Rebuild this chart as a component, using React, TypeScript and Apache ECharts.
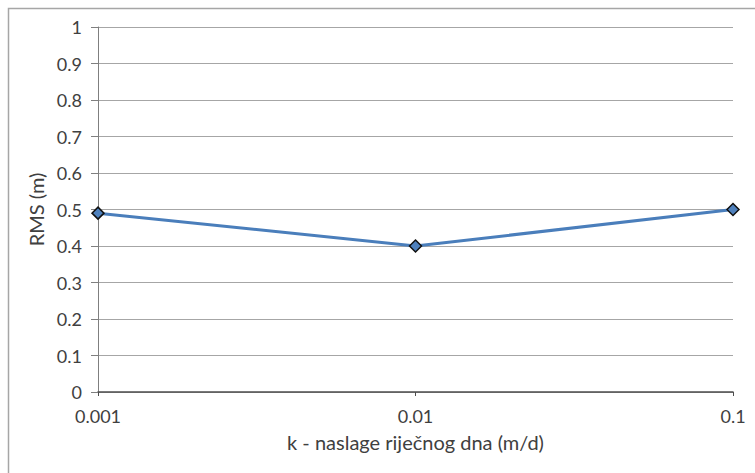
import React, { useEffect, useRef } from "react";
import * as echarts from "echarts";

const xValues = [0.001, 0.01, 0.1];
const rmsValues = [0.49, 0.4, 0.5];
const xTickLabels = ["0.001", "0.01", "0.1"];
const yTitle = "RMS (m)";
const xTitle = "k - naslage riječnog dna (m/d)";

export default function App() {
  const ref = useRef<HTMLDivElement>(null);
  useEffect(() => {
    if (!ref.current) return;
    const chart = echarts.init(ref.current, undefined, { renderer: "svg" });
    const font = "Lato, 'Open Sans', sans-serif";
    chart.setOption({
      animation: false,
      backgroundColor: "#ffffff",
      textStyle: { fontFamily: font },
      graphic: [
        {
          type: "rect",
          shape: { x: 8.5, y: 8.5, width: 800, height: 500 },
          style: { fill: "none", stroke: "#a6a6a6", lineWidth: 1.5 },
          silent: true,
          z: -1,
        },
      ],
      grid: { left: 98, right: 22, top: 27, bottom: 81, containLabel: false },
      xAxis: {
        type: "log",
        logBase: 10,
        min: 0.001,
        max: 0.1,
        name: xTitle,
        nameLocation: "middle",
        nameGap: 40,
        nameTextStyle: { fontSize: 20, color: "#404040", fontFamily: font },
        axisLine: { show: true, lineStyle: { color: "#4d4d4d", width: 1.5 } },
        axisTick: { show: true, length: 4, lineStyle: { color: "#4d4d4d" } },
        axisLabel: {
          fontSize: 18,
          color: "#404040",
          margin: 15,
          formatter: (v: number) => {
            const i = xValues.findIndex((x) => Math.abs(Math.log10(x) - Math.log10(v)) < 1e-6);
            return i >= 0 ? xTickLabels[i] : "";
          },
        },
        splitLine: { show: false },
        minorTick: { show: false },
      },
      yAxis: {
        type: "value",
        min: 0,
        max: 1,
        interval: 0.1,
        name: yTitle,
        nameLocation: "middle",
        nameGap: 42,
        nameRotate: 90,
        nameTextStyle: { fontSize: 20, color: "#404040", fontFamily: font },
        axisLine: { show: true, lineStyle: { color: "#7f7f7f", width: 1 } },
        axisTick: { show: true, length: 7, lineStyle: { color: "#7f7f7f" } },
        axisLabel: {
          fontSize: 18,
          color: "#404040",
          margin: 16,
          formatter: (v: number) => String(Math.round(v * 10) / 10),
        },
        splitLine: { show: true, lineStyle: { color: "#a6a6a6", width: 1 } },
      },
      series: [
        {
          type: "line",
          data: xValues.map((x, i) => [x, rmsValues[i]]),
          symbol: "diamond",
          symbolSize: 12,
          lineStyle: { color: "#4a7ebb", width: 3 },
          itemStyle: { color: "#4f81bd", borderColor: "#111111", borderWidth: 1.5 },
        },
      ],
    });
    return () => chart.dispose();
  }, []);
  return (
    <div
      ref={ref}
      style={{ position: "absolute", left: 0, top: 0, width: 755, height: 473 }}
    />
  );
}
